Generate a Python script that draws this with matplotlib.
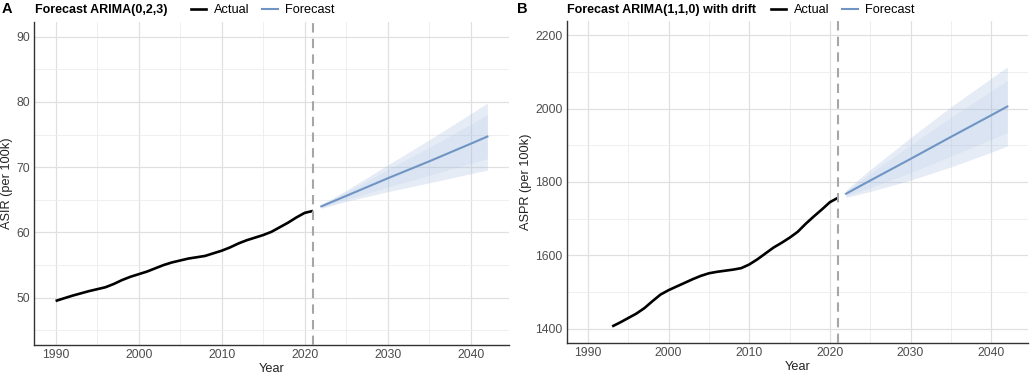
import matplotlib
matplotlib.use("Agg")
import matplotlib.pyplot as plt
from matplotlib.lines import Line2D
from matplotlib.ticker import MultipleLocator

plt.rcParams['font.family'] = ['Liberation Sans', 'DejaVu Sans']

# ---------------- data ----------------
years_a = list(range(1990, 2022))
asir_actual = [49.5, 49.9, 50.3, 50.65, 51.0, 51.3, 51.6, 52.1, 52.7, 53.2,
               53.6, 54.0, 54.5, 55.0, 55.4, 55.7, 56.0, 56.2, 56.4, 56.8,
               57.2, 57.7, 58.3, 58.8, 59.2, 59.6, 60.1, 60.8, 61.5, 62.3,
               63.0, 63.3]

fc_years = [2022, 2025, 2030, 2035, 2040, 2042]
asir_fc = [64.0, 65.6, 68.3, 70.9, 73.6, 74.7]
asir_hw95 = [0.3, 0.85, 2.05, 3.3, 4.6, 5.15]
asir_hw80 = [0.2, 0.55, 1.35, 2.15, 3.0, 3.4]

years_b = list(range(1993, 2022))
aspr_actual = [1406, 1417, 1429, 1441, 1456, 1475, 1493, 1505, 1515, 1525,
               1535, 1544, 1551, 1555, 1558, 1561, 1565, 1575, 1589, 1605,
               1621, 1634, 1648, 1664, 1686, 1706, 1725, 1745, 1757]
aspr_fc = [1768, 1804, 1863, 1923, 1982, 2006]
aspr_hw95 = [10, 30, 58, 82, 101, 108]
aspr_hw80 = [6.5, 19.5, 38, 53, 66, 71]

panels = [
    dict(tag="A", title="Forecast ARIMA(0,2,3)", ylabel="ASIR (per 100k)",
         yrs=years_a, act=asir_actual, fc=asir_fc, hw95=asir_hw95, hw80=asir_hw80,
         ylim=(45, 90), ymaj=10, ymin=5,
         rect=[34/1030, 30/375, 475/1030, 323/375], tagx=2/1030, titlex=35/1030,
         legx=191/1030),
    dict(tag="B", title="Forecast ARIMA(1,1,0) with drift", ylabel="ASPR (per 100k)",
         yrs=years_b, act=aspr_actual, fc=aspr_fc, hw95=aspr_hw95, hw80=aspr_hw80,
         ylim=(1400, 2200), ymaj=200, ymin=100,
         rect=[567/1030, 31.7/375, 461.3/1030, 322.6/375], tagx=517/1030, titlex=567/1030,
         legx=771/1030),
]

ACT_C = "#000000"
FC_C = "#6f95c4"
BAND_C = "#a5bcdf"

fig = plt.figure(figsize=(10.3, 3.75), dpi=100)

for p in panels:
    ax = fig.add_axes(p["rect"])
    lo95 = [m - h for m, h in zip(p["fc"], p["hw95"])]
    hi95 = [m + h for m, h in zip(p["fc"], p["hw95"])]
    lo80 = [m - h for m, h in zip(p["fc"], p["hw80"])]
    hi80 = [m + h for m, h in zip(p["fc"], p["hw80"])]
    ax.fill_between(fc_years, lo95, hi95, color=BAND_C, alpha=0.28, lw=0, zorder=2)
    ax.fill_between(fc_years, lo80, hi80, color=BAND_C, alpha=0.15, lw=0, zorder=2)
    ax.plot(fc_years, p["fc"], color=FC_C, lw=1.5, zorder=3)
    ax.plot(p["yrs"], p["act"], color=ACT_C, lw=1.9, zorder=4, solid_capstyle='butt')
    ax.axvline(2021, color="#a6a6a6", lw=1.5, ls=(0, (4.5, 3)), zorder=5)

    ax.set_xlim(1987.4, 2044.6)
    r = p["ylim"][1] - p["ylim"][0]
    ax.set_ylim(p["ylim"][0] - 0.05 * r, p["ylim"][1] + 0.05 * r)
    ax.xaxis.set_major_locator(MultipleLocator(10))
    ax.xaxis.set_minor_locator(MultipleLocator(5))
    ax.yaxis.set_major_locator(MultipleLocator(p["ymaj"]))
    ax.yaxis.set_minor_locator(MultipleLocator(p["ymin"]))
    ax.grid(which="major", color="#e0e0e0", lw=0.9, zorder=0)
    ax.grid(which="minor", color="#ededed", lw=0.6, zorder=0)
    ax.set_axisbelow(True)
    for s in ["top", "right"]:
        ax.spines[s].set_visible(False)
    for s in ["left", "bottom"]:
        ax.spines[s].set_color("#333333")
        ax.spines[s].set_linewidth(1.0)
    ax.tick_params(which="both", length=0, labelsize=8.8, labelcolor="#4d4d4d", pad=3)
    ax.set_xlabel("Year", fontsize=9.2, color="#222222", labelpad=1)
    ax.set_ylabel(p["ylabel"], fontsize=9.2, color="#222222", labelpad=2.5)

    fig.text(p["tagx"], 1 - 9/375, p["tag"], fontsize=10.5, fontweight="bold",
             va="center", ha="left")
    fig.text(p["titlex"], 1 - 10/375, p["title"], fontsize=9, fontweight="bold",
             va="center", ha="left")
    handles = [Line2D([], [], color=ACT_C, lw=1.9), Line2D([], [], color=FC_C, lw=1.5)]
    fig.legend(handles, ["Actual", "Forecast"], loc="center left",
               bbox_to_anchor=(p["legx"], 1 - 10/375), bbox_transform=fig.transFigure,
               ncol=2, frameon=False, fontsize=9.2, handlelength=1.2, handletextpad=0.6,
               columnspacing=1.0, borderpad=0, borderaxespad=0)

fig.savefig("out.png", dpi=100)
